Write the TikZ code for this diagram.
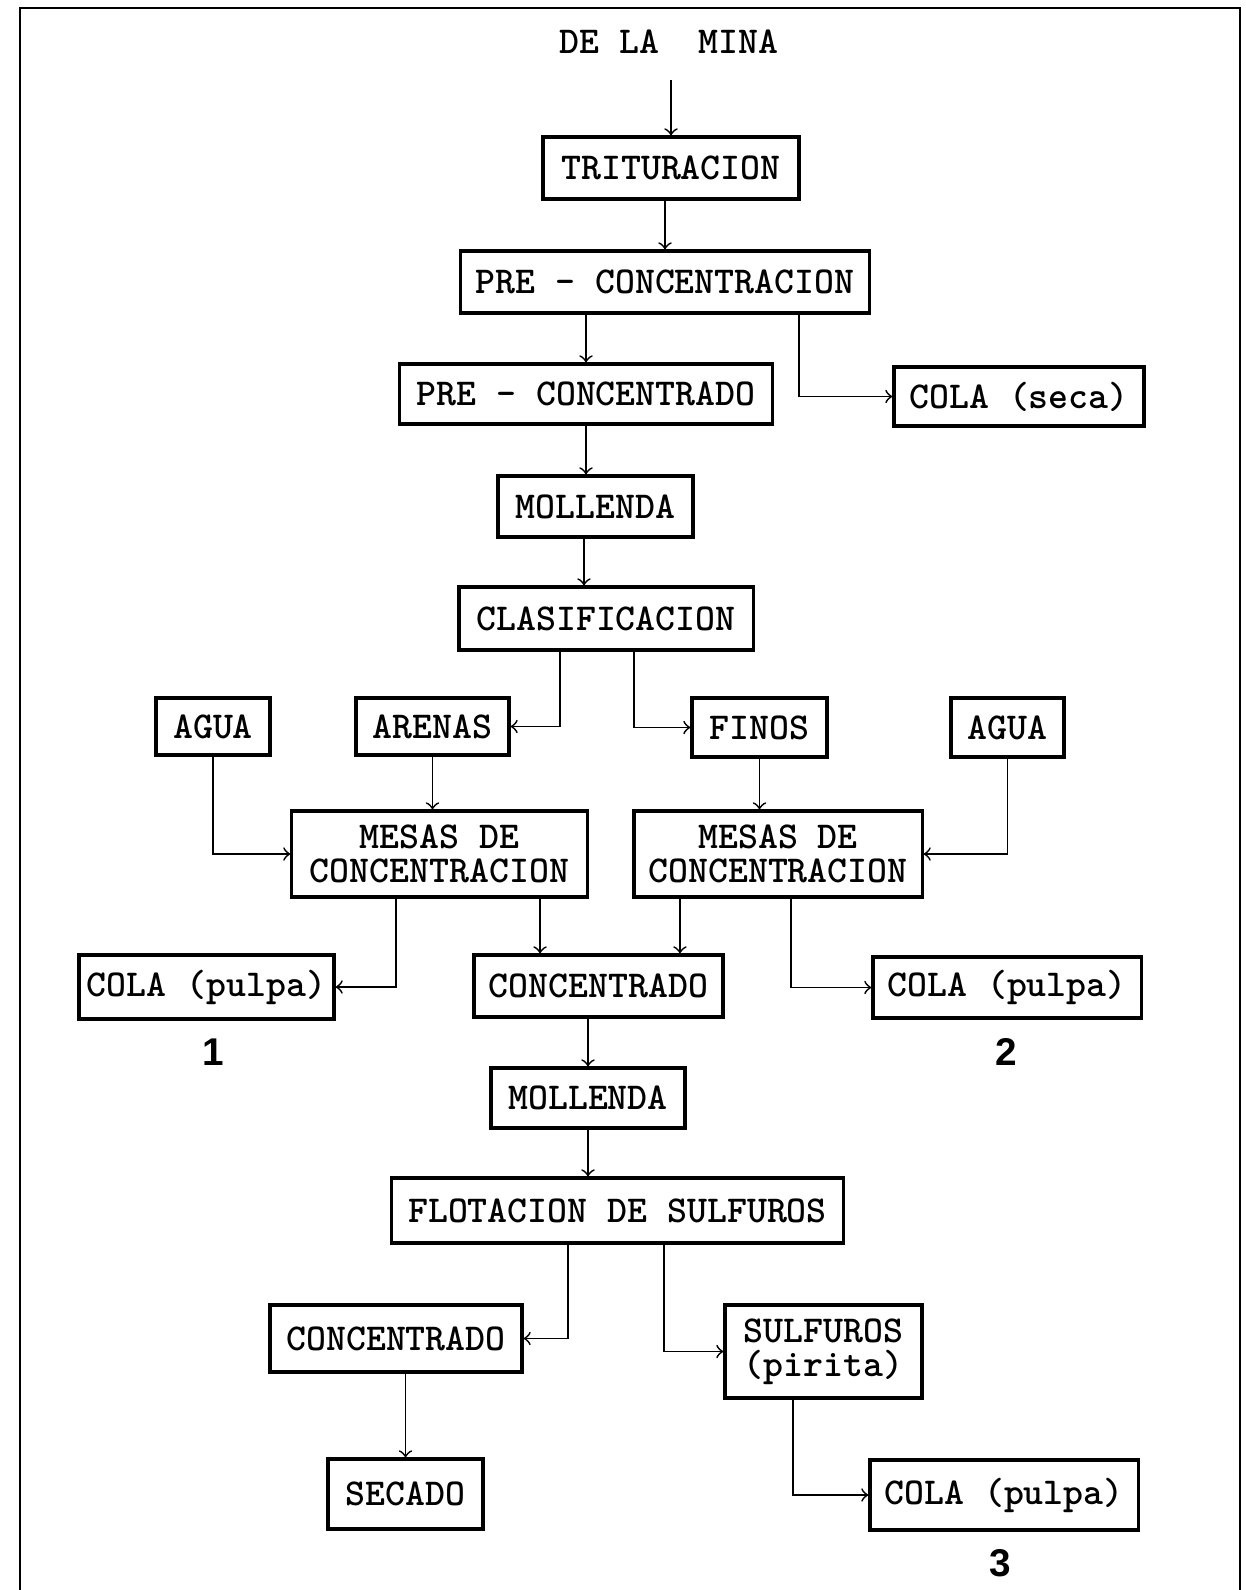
\documentclass[tikz,border=0pt]{standalone}
\usepackage{fontspec}
\setsansfont{Liberation Sans}
\usepackage{tikz}
\usetikzlibrary{arrows,positioning,calc}

\begin{document}
\begin{tikzpicture}[
  x=0.01cm, y=-0.01cm,
  >=to,
  mybox/.style={
    draw,
    line width=0.9pt,
    inner sep=0pt,
    align=center,
    font=\ttfamily\bfseries\fontsize{10.8}{9.6}\selectfont
    },
  mytext/.style={
    font=\ttfamily\bfseries\fontsize{10.8}{9.6}\selectfont
    },
  mynum/.style={
    font=\sffamily\bfseries\fontsize{11}{12}\selectfont
    },
  myarrow/.style={->, line width=0.5pt}
]
\useasboundingbox (0,0) rectangle (1246,1590);
% frame
\draw[line width=0.8pt] (20,1590) -- (20,8) -- (1240,8) -- (1240,1590);

% top part
\node [mytext] (mina) at (669,42) {DE LA\ \ MINA};
\node [mybox, minimum width=2.56cm, minimum height=0.62cm] (tritur) at (671,168) {TRITURACION};
\node [mybox, minimum width=4.08cm, minimum height=0.62cm] (precon) at (665,282) {PRE - CONCENTRACION};
\node [mybox, minimum width=3.72cm, minimum height=0.60cm] (preconc) at (586,394) {PRE - CONCENTRADO};
\node [mybox, minimum width=2.50cm, minimum height=0.59cm] (colaseca) at (1019,396.5) {COLA (seca)};
\node [mybox, minimum width=1.95cm, minimum height=0.61cm] (moll) at (595.5,506.5) {MOLLENDA};
\node [mybox, minimum width=2.94cm, minimum height=0.63cm] (clasif) at (606,618.5) {CLASIFICACION};

% middle part
\node [mybox, minimum width=1.14cm, minimum height=0.57cm] (aguaL) at (213,726.5) {AGUA};
\node [mybox, minimum width=1.53cm, minimum height=0.57cm] (arenas) at (432.5,726.5) {ARENAS};
\node [mybox, minimum width=1.35cm, minimum height=0.59cm] (finos) at (759.5,727.5) {FINOS};
\node [mybox, minimum width=1.13cm, minimum height=0.59cm] (aguaR) at (1007.5,727.5) {AGUA};
\node [mybox, minimum width=2.95cm, minimum height=0.86cm] (mesasL) at (439.5,854) {MESAS DE\\CONCENTRACION};
\node [mybox, minimum width=2.88cm, minimum height=0.86cm] (mesasR) at (778,854) {MESAS DE\\CONCENTRACION};
\node [mybox, minimum width=2.55cm, minimum height=0.64cm] (colaA) at (206.5,987) {COLA (pulpa)};
\node [mybox, minimum width=2.49cm, minimum height=0.62cm] (conc) at (598.5,986) {CONCENTRADO};
\node [mybox, minimum width=2.68cm, minimum height=0.61cm] (colaB) at (1007,987.5) {COLA (pulpa)};
\node [mynum] (numA) at (213,1052) {1};
\node [mynum] (numB) at (1006,1052) {2};

% bottom part
\node [mybox, minimum width=1.94cm, minimum height=0.60cm] (mollB) at (588,1098) {MOLLENDA};
\node [mybox, minimum width=4.51cm, minimum height=0.65cm] (flot) at (617.5,1210.5) {FLOTACION DE SULFUROS};
\node [mybox, minimum width=2.52cm, minimum height=0.67cm] (concB) at (396,1338.5) {CONCENTRADO};
\node [mybox, minimum width=1.97cm, minimum height=0.93cm] (sulf) at (823.5,1351.5) {SULFUROS\\(pirita)};
\node [mybox, minimum width=1.55cm, minimum height=0.70cm] (secado) at (405.5,1494) {SECADO};
\node [mybox, minimum width=2.68cm, minimum height=0.70cm] (colaC) at (1004,1495) {COLA (pulpa)};
\node [mynum] (numC) at (1000,1563) {3};

% connectors
\draw[myarrow] ([yshift=-0.14cm]tritur.north |- mina.south) -- (tritur.north);
\draw[myarrow] (precon.north |- tritur.south) -- (precon.north);
\draw[myarrow] (preconc.north |- precon.south) -- (preconc.north);
\draw[myarrow] ([xshift=1.34cm]precon.south) |- (colaseca.west);
\draw[myarrow] (preconc.south) -- (preconc.south |- moll.north);
\draw[myarrow] ([xshift=-1.15mm]moll.south) -- ([xshift=-1.15mm]moll.south |- clasif.north);
\draw[myarrow] ([xshift=-0.46cm]clasif.south) |- (arenas.east);
\draw[myarrow] ([xshift=0.28cm]clasif.south) |- (finos.west);
\draw[myarrow] (arenas.south) -- (arenas.south |- mesasL.north);
\draw[myarrow] (aguaL.south) |- (mesasL.west);
\draw[myarrow] (finos.south) -- (finos.south |- mesasR.north);
\draw[myarrow] (aguaR.south) |- (mesasR.east);
\draw[myarrow] ([xshift=-0.435cm]mesasL.south) |- (colaA.east);
\draw[myarrow] ([xshift=1.005cm]mesasL.south) -- ([xshift=1.005cm]mesasL.south |- conc.north);
\draw[myarrow] ([xshift=-0.98cm]mesasR.south) -- ([xshift=-0.98cm]mesasR.south |- conc.north);
\draw[myarrow] ([xshift=0.13cm]mesasR.south) |- (colaB.west);
\draw[myarrow] (mollB.north |- conc.south) -- (mollB.north);
\draw[myarrow] (mollB.south) -- (mollB.south |- flot.north);
\draw[myarrow] ([xshift=-0.495cm]flot.south) |- (concB.east);
\draw[myarrow] ([xshift=0.465cm]flot.south) |- (sulf.west);
\draw[myarrow] (secado.north |- concB.south) -- (secado.north);
\draw[myarrow] ([xshift=-0.305cm]sulf.south) |- (colaC.west);

\end{tikzpicture}
\end{document}
